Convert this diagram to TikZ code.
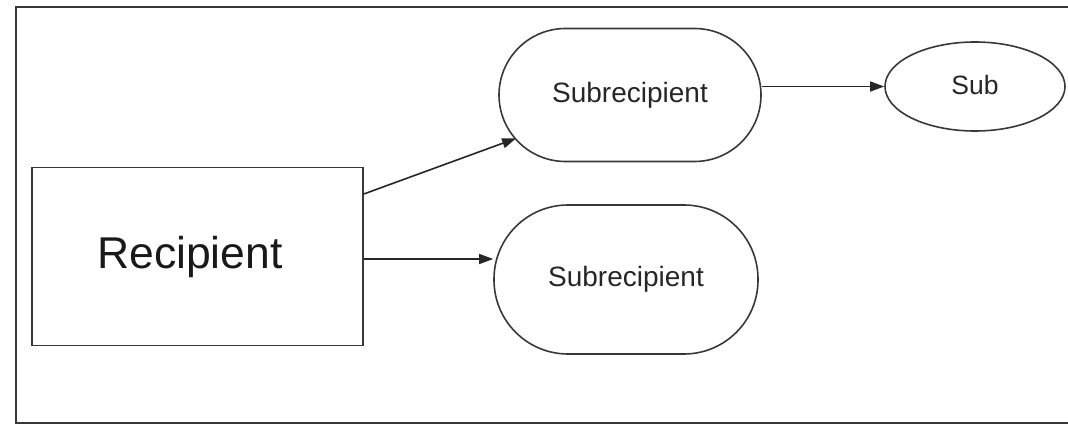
\documentclass[tikz,border=0pt]{standalone}
\usepackage{fontspec}
\setmainfont{Liberation Sans}
\usetikzlibrary{shapes.geometric,arrows.meta,calc}
\tikzset{
  ln/.style={draw=black!78, line width=1.6pt},
  stadium/.style={ln, rectangle, inner sep=0pt, font=\fontsize{28}{30}\selectfont, text=black!85},
  arr/.style={draw=black!85, line width=1.6pt, -{Triangle[length=14pt,width=10pt]}}
}
\begin{document}
\begin{tikzpicture}[x=1pt,y=-1pt]
\useasboundingbox (0,0) rectangle (1068,425);
% outer frame (open on the right)
\draw[ln] (1068,7) -- (16,7) -- (16,423) -- (1068,423);
\node[ln, rectangle, minimum width=331pt, minimum height=178pt, inner sep=0pt,
      font=\fontsize{44.5}{46}\selectfont, text=black!90] (rec) at (197.5,256.5) {\hspace*{-15pt}Recipient};
\node[stadium, rounded corners=66.5pt, minimum width=262pt, minimum height=133pt] (s1) at (630,95) {Subrecipient};
\node[stadium, rounded corners=74pt, minimum width=264pt, minimum height=149pt] (s2) at (626,279.5) {\raisebox{-2pt}{Subrecipient}};
\node[ln, ellipse, inner sep=0pt, minimum width=180pt, minimum height=89pt,
      font=\fontsize{26.5}{28}\selectfont, text=black!85] (sub) at (975,86.5) {\raisebox{3pt}{Sub}};
\draw[arr] ($(rec.north east)!0.152!(rec.south east)$) -- ($(s1.center)+(-63.5pt,0)+(220.7:66.5pt)$);
\draw[arr] ($(rec.east)+(0,2.5)$) -- ($(rec.east -| s2.west)+(0,2.5)$);
\draw[arr] (s1.east |- sub.west) -- (sub.west);
\end{tikzpicture}
\end{document}
